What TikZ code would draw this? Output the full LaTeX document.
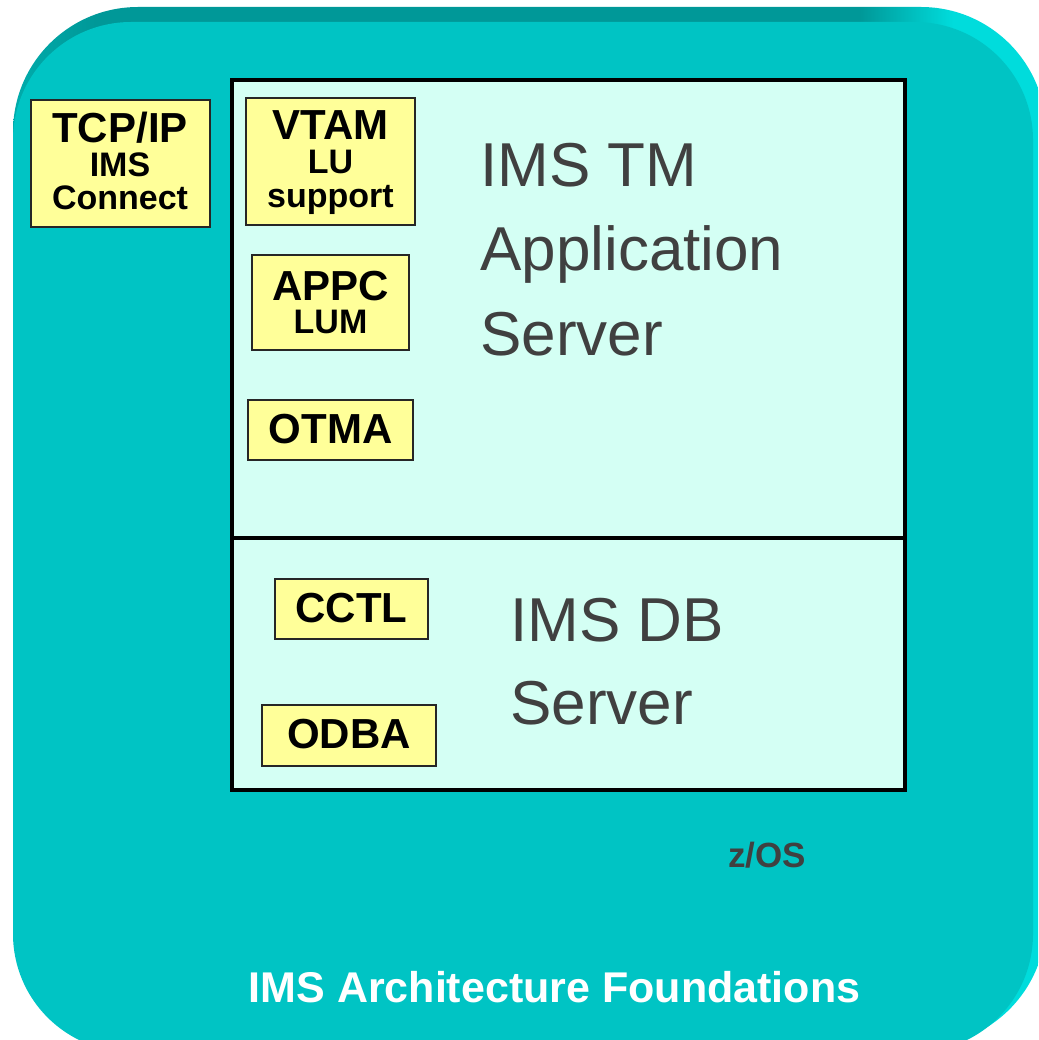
\documentclass[tikz,border=0pt]{standalone}
\usepackage{fontspec}
\setmainfont{Liberation Sans}
\definecolor{teal1}{RGB}{0,196,196}
\definecolor{tealdark}{RGB}{0,152,152}
\definecolor{tealmid}{RGB}{0,172,172}
\definecolor{tealbright}{RGB}{0,220,220}
\definecolor{paleaqua}{RGB}{212,255,244}
\definecolor{boxyellow}{RGB}{255,255,153}
\definecolor{txtgray}{RGB}{64,64,64}
\pgfdeclarehorizontalshading{slabshade}{100bp}{%
  color(0bp)=(tealmid); color(25bp)=(tealmid); color(29bp)=(tealdark); color(66bp)=(tealdark);
  color(70.5bp)=(tealbright); color(100bp)=(tealbright)}
\tikzset{
  ybox/.style={draw=black!85, line width=2pt, fill=boxyellow, inner sep=0pt},
  bigbox/.style={draw=black, line width=4pt, fill=paleaqua, inner sep=0pt},
  bigtxt/.style={anchor=base west, inner sep=0pt, text=txtgray, font=\fontsize{62}{62}\selectfont},
  btxt/.style={anchor=base, inner sep=0pt, font=\fontsize{42}{42}\selectfont\bfseries},
  stxt/.style={anchor=base, inner sep=0pt, font=\fontsize{34}{34}\selectfont\bfseries},
}
\begin{document}
\begin{tikzpicture}[x=1pt,y=-1pt]
\useasboundingbox (0,0) rectangle (1038,1040);
\clip (0,0) rectangle (1038,1040);
% background slab (bevel)
\shade[shading=slabshade, rounded corners=125pt] (13,7) rectangle (1046,1046);
% front face
\fill[teal1, rounded corners=118pt] (13,22) rectangle (1033,1052);

% server boxes
\node[bigbox, minimum width=672.5pt, minimum height=458pt] (tm) at (568.25,309) {};
\node[bigbox, minimum width=672.5pt, minimum height=252pt] (db) at (568.25,664) {};

% yellow boxes
\node[ybox, minimum width=179pt, minimum height=127pt] (tcp) at (120.5,163.5) {};
\node[ybox, minimum width=169pt, minimum height=127pt] (vtam) at (330.5,161.5) {};
\node[ybox, minimum width=157pt, minimum height=95pt] (appc) at (330.5,302.5) {};
\node[ybox, minimum width=165pt, minimum height=60pt] (otma) at (330.5,430) {};
\node[ybox, minimum width=153pt, minimum height=60pt] (cctl) at (351.5,609) {};
\node[ybox, minimum width=174pt, minimum height=61pt] (odba) at (349,735.5) {};

% yellow box texts
\node[btxt] (tcpA) at (120,143) {TCP/IP};
\node[stxt] (tcpB) at (120,177) {IMS};
\node[stxt] (tcpC) at (120,210) {Connect};
\node[btxt] (vtamA) at (330.5,140) {VTAM};
\node[stxt] (vtamB) at (330.5,174) {LU};
\node[stxt] (vtamC) at (330.5,208) {support};
\node[btxt] (appcA) at (330.5,300) {APPC};
\node[stxt] (appcB) at (330.5,333) {LUM};
\node[btxt] (otmaA) at (330.5,443) {OTMA};
\node[btxt] (cctlA) at (351.5,622) {CCTL};
\node[btxt] (odbaA) at (349,748) {ODBA};

% server labels
\node[bigtxt] (tm1) at (480,187) {IMS TM};
\node[bigtxt] (tm2) at (480,271) {Application};
\node[bigtxt] (tm3) at (480,355) {Server};
\node[bigtxt] (db1) at (510,641) {IMS DB};
\node[bigtxt] (db2) at (510,724) {Server};

% bottom labels
\node[anchor=base west, inner sep=0pt, text=txtgray, font=\fontsize{35}{35}\selectfont\bfseries] (zos) at (728,867) {z/OS};
\node[anchor=base, inner sep=0pt, text=white, font=\fontsize{43}{43}\selectfont\bfseries] (title) at (554.5,1002) {IMS Architecture Foundations};
\end{tikzpicture}
\end{document}
